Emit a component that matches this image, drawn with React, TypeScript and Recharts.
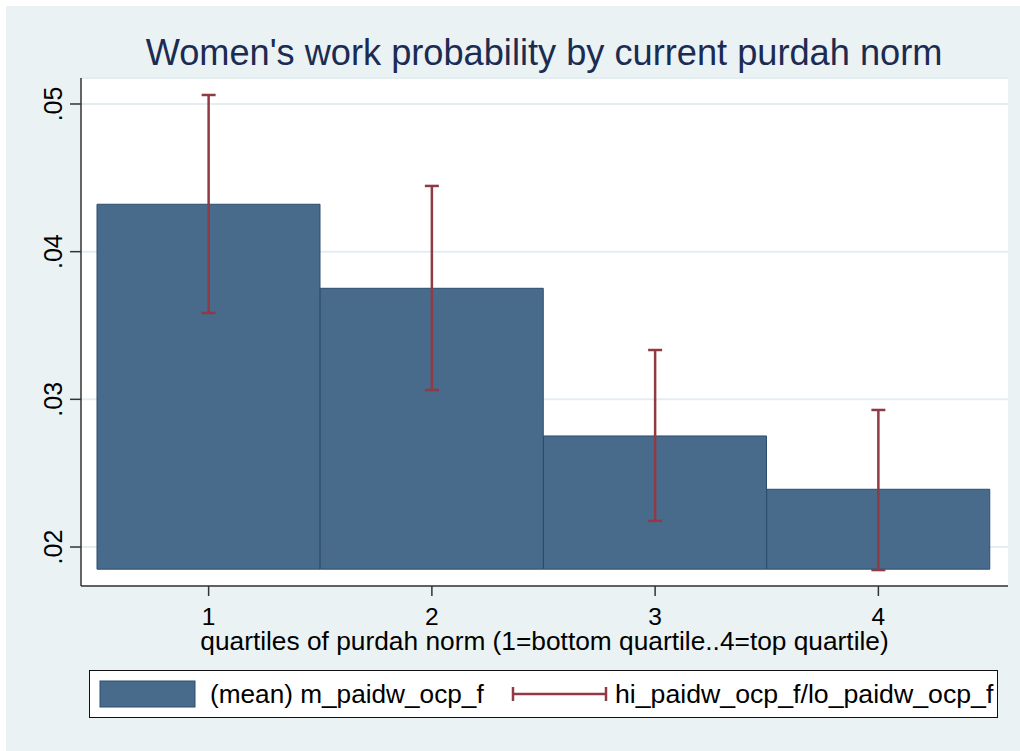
import React from 'react';
import {
  ComposedChart,
  Bar,
  Line,
  ErrorBar,
  XAxis,
  YAxis,
  CartesianGrid,
  Legend,
} from 'recharts';

const categories = ['1', '2', '3', '4'];
const meanValues = [0.04321, 0.03752, 0.02752, 0.02391];
const hiValues = [0.05061, 0.04445, 0.03334, 0.02928];
const loValues = [0.03585, 0.03063, 0.02177, 0.01844];
const yTicks = [0.02, 0.03, 0.04, 0.05];
const barBase = 0.0185;
const yDomain: [number, number] = [0.01736, 0.05176];

const titleText = "Women's work probability by current purdah norm";
const xLabelText = 'quartiles of purdah norm (1=bottom quartile..4=top quartile)';
const meanName = '(mean) m_paidw_ocp_f';
const ciName = 'hi_paidw_ocp_f/lo_paidw_ocp_f';

const data = categories.map((c, i) => ({
  cat: c,
  range: [barBase, meanValues[i]],
  mean: meanValues[i],
  err: [meanValues[i] - loValues[i], hiValues[i] - meanValues[i]],
}));

const FONT = '"Liberation Sans", Arial, Helvetica, sans-serif';
const BG = '#EAF2F3';
const BAR_FILL = '#486B8C';
const BAR_STROKE = '#2C4C6E';
const ERR = '#903A45';
const AXIS = '#333333';

const fmt = (v: number) => v.toFixed(2).replace(/^0/, '');

const YTick = (props: any) => {
  const { x, y, payload } = props;
  return (
    <text
      x={0}
      y={0}
      transform={`translate(${x - 6},${y}) rotate(-90)`}
      textAnchor="middle"
      fontSize={25}
      fontFamily={FONT}
      fill="#000"
    >
      {fmt(payload.value)}
    </text>
  );
};

const LegendContent = () => (
  <div
    style={{
      boxSizing: 'border-box',
      width: 909,
      height: 48,
      border: '1px solid #111',
      background: '#fff',
    }}
  >
    <svg width={907} height={46} style={{ display: 'block' }}>
      <rect x={10} y={10} width={95} height={26} fill={BAR_FILL} stroke={BAR_STROKE} strokeWidth={1} />
      <text x={120} y={32} fontSize={26.2} fontFamily={FONT} fill="#000">
        {meanName}
      </text>
      <line x1={422} y1={23} x2={517} y2={23} stroke={ERR} strokeWidth={2.5} />
      <line x1={423} y1={16} x2={423} y2={30} stroke={ERR} strokeWidth={2.5} />
      <line x1={516} y1={16} x2={516} y2={30} stroke={ERR} strokeWidth={2.5} />
      <text x={525} y={32} fontSize={26.7} fontFamily={FONT} fill="#000">
        {ciName}
      </text>
    </svg>
  </div>
);

export default function App() {
  return (
    <div
      style={{
        position: 'absolute',
        left: 6,
        top: 6,
        width: 1014,
        height: 745,
        background: BG,
        fontFamily: FONT,
      }}
    >
      <svg
        width={1014}
        height={80}
        style={{ position: 'absolute', left: 0, top: 0, zIndex: 2, pointerEvents: 'none' }}
      >
        <text x={538} y={59} textAnchor="middle" fontSize={36.2} fontFamily={FONT} fill="#1C2B52">
          {titleText}
        </text>
      </svg>
      <ComposedChart
        width={1014}
        height={745}
        data={data}
        margin={{ top: 72, right: 12, bottom: 33, left: 0 }}
        barCategoryGap={0}
        barGap={0}
      >
        <CartesianGrid
          vertical={false}
          horizontal={true}
          stroke="#E4EDF0"
          strokeWidth={2}
          fill="#ffffff"
          fillOpacity={1}
        />
        <XAxis
          dataKey="cat"
          type="category"
          padding={{ left: 16, right: 18 }}
          height={84}
          tickSize={10}
          tickMargin={12}
          axisLine={{ stroke: AXIS, strokeWidth: 1.5 }}
          tickLine={{ stroke: AXIS, strokeWidth: 1.5 }}
          tick={{ fontSize: 24.5, fill: '#000', fontFamily: FONT }}
          interval={0}
          label={{
            value: xLabelText,
            position: 'insideBottom',
            offset: 20,
            fontSize: 26.3,
            fill: '#000',
            fontFamily: FONT,
          }}
        />
        <YAxis
          type="number"
          domain={yDomain}
          ticks={yTicks}
          width={75}
          tickSize={11}
          allowDataOverflow={true}
          axisLine={{ stroke: AXIS, strokeWidth: 1.5 }}
          tickLine={{ stroke: AXIS, strokeWidth: 1.5 }}
          tick={<YTick />}
          interval={0}
        />
        <Bar
          dataKey="range"
          name={meanName}
          fill={BAR_FILL}
          stroke={BAR_STROKE}
          strokeWidth={1}
          isAnimationActive={false}
        />
        <Line
          dataKey="mean"
          name={ciName}
          stroke="none"
          dot={false}
          activeDot={false}
          legendType="none"
          isAnimationActive={false}
        >
          <ErrorBar dataKey="err" direction="y" width={7} stroke={ERR} strokeWidth={2.5} />
        </Line>
        <Legend
          verticalAlign="bottom"
          content={<LegendContent />}
          wrapperStyle={{ left: 83, width: 909, bottom: 33, height: 48 }}
        />
      </ComposedChart>
    </div>
  );
}
